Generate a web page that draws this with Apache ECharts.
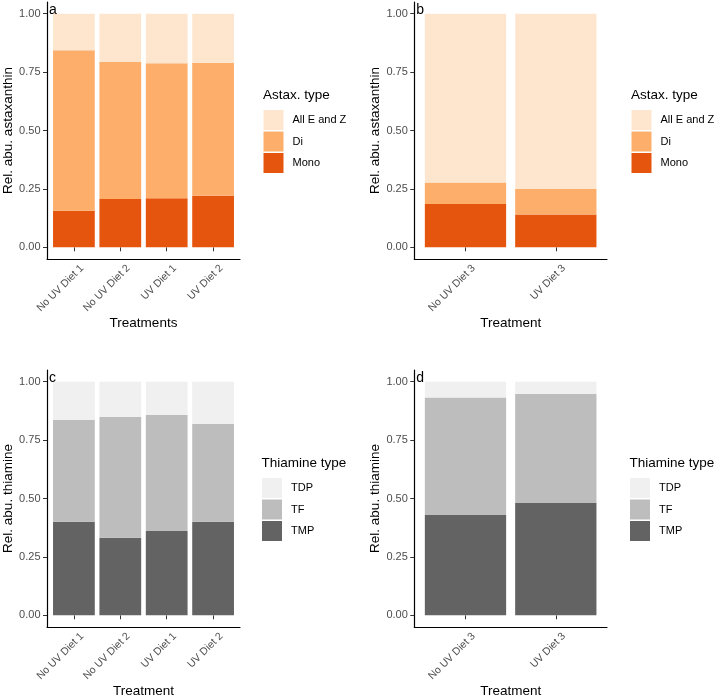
<!DOCTYPE html>
<html>
<head>
<meta charset="utf-8">
<script src="https://cdn.jsdelivr.net/npm/echarts@6/dist/echarts.min.js"></script>
<style>
  html, body { margin: 0; padding: 0; background: #fff; }
  #main { width: 718px; height: 697px; }
</style>
</head>
<body>
<div id="main"></div>
<script>
// categories
const catsLeft = ['No UV Diet 1', 'No UV Diet 2', 'UV Diet 1', 'UV Diet 2']
const catsRight = ['No UV Diet 3', 'UV Diet 3']

// astaxanthin (panels a, b)
const monoA = [0.157, 0.207, 0.210, 0.221]
const diA = [0.686, 0.586, 0.578, 0.569]
const allEZA = [0.157, 0.207, 0.212, 0.210]
const monoB = [0.185, 0.141]
const diB = [0.092, 0.109]
const allEZB = [0.723, 0.750]

// thiamine (panels c, d)
const tmpC = [0.400, 0.332, 0.361, 0.400]
const tfC = [0.436, 0.518, 0.496, 0.419]
const tdpC = [0.164, 0.150, 0.143, 0.181]
const tmpD = [0.429, 0.481]
const tfD = [0.503, 0.466]
const tdpD = [0.068, 0.053]

const yTicks = [0, 0.25, 0.5, 0.75, 1]

const font = 'Liberation Sans, Arial, sans-serif'
const astaxColors = { 'Mono': '#e6550d', 'Di': '#fdae6b', 'All E and Z': '#fee6ce' }
const thiaColors = { 'TMP': '#636363', 'TF': '#bdbdbd', 'TDP': '#f0f0f0' }

const panels = [
  { tag: 'a', x0: 47, x1: 240, top: 2, bottom: 259, cats: catsLeft, xName: 'Treatments', yName: 'Rel. abu. astaxanthin',
    colors: astaxColors, series: [['Mono', monoA], ['Di', diA], ['All E and Z', allEZA]],
    legTitle: 'Astax. type', legLeft: 263.5, legTop: 110 },
  { tag: 'b', x0: 414.3, x1: 607, top: 2, bottom: 259, cats: catsRight, xName: 'Treatment', yName: 'Rel. abu. astaxanthin',
    colors: astaxColors, series: [['Mono', monoB], ['Di', diB], ['All E and Z', allEZB]],
    legTitle: 'Astax. type', legLeft: 631.5, legTop: 110 },
  { tag: 'c', x0: 47, x1: 240, top: 370, bottom: 627, cats: catsLeft, xName: 'Treatment', yName: 'Rel. abu. thiamine',
    colors: thiaColors, series: [['TMP', tmpC], ['TF', tfC], ['TDP', tdpC]],
    legTitle: 'Thiamine type', legLeft: 262, legTop: 478 },
  { tag: 'd', x0: 414.3, x1: 607, top: 370, bottom: 627, cats: catsRight, xName: 'Treatment', yName: 'Rel. abu. thiamine',
    colors: thiaColors, series: [['TMP', tmpD], ['TF', tfD], ['TDP', tdpD]],
    legTitle: 'Thiamine type', legLeft: 630, legTop: 478 }
]

const grid = [], xAxis = [], yAxis = [], series = [], legend = [], title = []

panels.forEach((p, i) => {
  const band = (p.x1 - p.x0) / (p.cats.length + 1.2)
  const pad = band * 0.1
  const h = p.bottom - p.top
  // inner grid holds the bars, outer grid only draws the full x axis line
  grid.push({ left: p.x0 + pad, top: p.top, width: p.x1 - p.x0 - 2 * pad, height: h, outerBoundsMode: 'none' })
  grid.push({ left: p.x0, top: p.top, width: p.x1 - p.x0, height: h, outerBoundsMode: 'none' })

  xAxis.push({
    type: 'category', gridIndex: 2 * i, data: p.cats,
    axisLine: { show: false },
    axisTick: { show: true, alignWithLabel: true, length: 4, lineStyle: { color: '#333', width: 1 } },
    axisLabel: { rotate: 45, fontSize: 10.5, color: '#4d4d4d', fontFamily: font, margin: 5,
      verticalAlign: 'top', padding: [2, -4, 0, 0] },
    name: p.xName, nameLocation: 'middle', nameGap: 55,
    nameTextStyle: { fontSize: 13.5, color: '#000', fontFamily: font }
  })
  xAxis.push({
    type: 'value', gridIndex: 2 * i + 1, min: 0, max: 1,
    axisLine: { show: true, lineStyle: { color: '#000', width: 1.2 } },
    axisTick: { show: false }, axisLabel: { show: false }, splitLine: { show: false }
  })

  yAxis.push({
    type: 'value', gridIndex: 2 * i, min: -0.05, max: 1.05, offset: pad,
    axisLine: { show: true, lineStyle: { color: '#000', width: 1.2 } },
    axisTick: { show: true, length: 4, customValues: yTicks, lineStyle: { color: '#333', width: 1 } },
    axisLabel: { customValues: yTicks, fontSize: 11, color: '#4d4d4d', fontFamily: font, margin: 6.5,
      formatter: v => v.toFixed(2) },
    splitLine: { show: false },
    name: p.yName, nameLocation: 'middle', nameGap: 30,
    nameTextStyle: { fontSize: 13.5, color: '#000', fontFamily: font }
  })
  yAxis.push({ type: 'value', gridIndex: 2 * i + 1, show: false })

  p.series.forEach(([name, data]) => {
    series.push({
      name: name, type: 'bar', stack: 'p' + i, data: data,
      xAxisIndex: 2 * i, yAxisIndex: 2 * i, barWidth: '90%',
      itemStyle: { color: p.colors[name] },
      emphasis: { disabled: true }
    })
  })

  legend.push({
    orient: 'vertical', left: p.legLeft, top: p.legTop, padding: 0,
    icon: 'rect', itemWidth: 20, itemHeight: 20, itemGap: 1.5,
    data: p.series.map(s => s[0]).reverse(),
    textStyle: { fontSize: 11, color: '#000', fontFamily: font, padding: [0, 0, 0, 4] },
    selectedMode: false
  })

  title.push({ text: p.legTitle, left: p.legLeft - 0.5, top: p.legTop - 22, padding: 0,
    textStyle: { fontSize: 13.5, fontWeight: 'normal', color: '#000', fontFamily: font } })
  title.push({ text: p.tag, left: p.x0 + 2, top: p.top + 1, padding: 0,
    textStyle: { fontSize: 14, fontWeight: 'normal', color: '#000', fontFamily: font } })
})

const chart = echarts.init(document.getElementById('main'), null, { renderer: 'canvas' })
chart.setOption({
  animation: false,
  backgroundColor: '#fff',
  title: title,
  legend: legend,
  grid: grid,
  xAxis: xAxis,
  yAxis: yAxis,
  series: series
})
</script>
</body>
</html>
